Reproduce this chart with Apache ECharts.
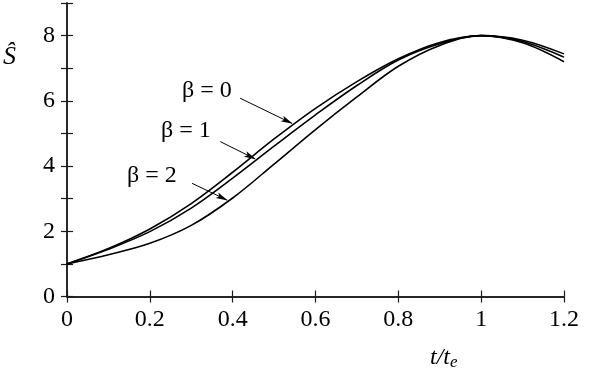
<!DOCTYPE html>
<html>
<head>
<meta charset="utf-8">
<script src="https://cdn.jsdelivr.net/npm/echarts@6/dist/echarts.min.js"></script>
<style>
  html, body { margin: 0; padding: 0; background: #fff; }
  #chart { width: 591px; height: 378px; }
</style>
</head>
<body>
<div id="chart"></div>
<script>
// t / t_e sample points
const tValues = [0, 0.1, 0.2, 0.3, 0.4, 0.5, 0.6, 0.7, 0.8, 0.9, 1.0, 1.1, 1.2];
// S-hat for each beta
const beta0 = [1.00, 1.47, 2.07, 2.85, 3.81, 4.83, 5.77, 6.59, 7.29, 7.79, 8.00, 7.86, 7.44];
const beta1 = [1.00, 1.45, 1.99, 2.71, 3.63, 4.61, 5.57, 6.47, 7.25, 7.75, 8.00, 7.82, 7.34];
const beta2 = [1.00, 1.28, 1.63, 2.18, 3.02, 4.06, 5.12, 6.12, 7.06, 7.70, 8.00, 7.78, 7.20];

const yTickLabels = [0, 2, 4, 6, 8];

// arrows: [start, tip] in data coords
const arrows = [
  [[0.418, 6.08], [0.543, 5.31]],
  [[0.370, 4.75], [0.454, 4.22]],
  [[0.302, 3.47], [0.386, 2.96]],
];
const betaLabels = ["β = 0", "β = 1", "β = 2"];

const FONT = "'Liberation Serif', serif";

function pairs(ys) {
  return tValues.map((t, i) => [t, ys[i]]);
}

const chart = echarts.init(document.getElementById("chart"));

const axisLine = { show: true, lineStyle: { color: "#1a1a1a", width: 1.5 } };
const axisTick = { show: true, inside: true, length: 6, lineStyle: { color: "#1a1a1a", width: 1.2 } };

function curve(name, ys, withArrows) {
  const s = {
    name: name,
    type: "line",
    data: pairs(ys),
    smooth: 0.35,
    symbol: "none",
    lineStyle: { color: "#000", width: 1.6 },
    animation: false,
  };
  if (withArrows) {
    s.markLine = {
      silent: true,
      animation: false,
      symbol: ["none", "path://M5,0 L10,22 L5,17 L0,22 Z"],
      symbolSize: [6, 12],
      symbolOffset: [0, [0, 5]],
      label: { show: false },
      lineStyle: { color: "#000", width: 1, type: "solid" },
      data: arrows.map(a => [{ coord: a[0] }, { coord: a[1] }]),
    };
  }
  return s;
}

chart.setOption({
  backgroundColor: "#fff",
  animation: false,
  grid: { left: 67, right: 27, top: 3, bottom: 81.5 },
  xAxis: [
    {
      type: "value", min: 0, max: 1.2, interval: 0.2,
      axisLine: axisLine, axisTick: axisTick,
      splitLine: { show: false },
      axisLabel: {
        margin: 11, color: "#000", fontSize: 24, fontFamily: FONT,
        formatter: v => String(+v.toFixed(1)),
      },
    },
    {
      type: "value", position: "top", min: 0, max: 1.2, interval: 0.2,
      axisLine: axisLine, axisTick: axisTick,
      splitLine: { show: false }, axisLabel: { show: false },
    },
  ],
  yAxis: [
    {
      type: "value", min: 0, max: 9, interval: 1,
      axisLine: axisLine, axisTick: axisTick,
      splitLine: { show: false },
      axisLabel: {
        margin: 12, color: "#000", fontSize: 24, fontFamily: FONT,
        formatter: v => (yTickLabels.indexOf(v) >= 0 ? String(v) : ""),
      },
    },
    {
      type: "value", position: "right", min: 0, max: 9, interval: 1,
      axisLine: axisLine, axisTick: axisTick,
      splitLine: { show: false }, axisLabel: { show: false },
    },
  ],
  series: [
    curve("β = 0", beta0, true),
    curve("β = 1", beta1, false),
    curve("β = 2", beta2, false),
  ],
  graphic: [
    {
      type: "text", left: 3, top: 44,
      style: { text: "Ŝ", fontFamily: FONT, fontStyle: "italic", fontSize: 26, fill: "#000" },
    },
    {
      type: "text", left: 430, top: 346,
      style: {
        text: "{a|t/t}{b|e}",
        rich: {
          a: { fontFamily: FONT, fontStyle: "italic", fontSize: 24, fill: "#000" },
          b: { fontFamily: FONT, fontStyle: "italic", fontSize: 17, fill: "#000", padding: [10, 0, 0, 0] },
        },
      },
    },
    { type: "text", left: 182, top: 79, style: { text: betaLabels[0], fontFamily: FONT, fontSize: 24, fill: "#000" } },
    { type: "text", left: 161, top: 119, style: { text: betaLabels[1], fontFamily: FONT, fontSize: 24, fill: "#000" } },
    { type: "text", left: 127, top: 164, style: { text: betaLabels[2], fontFamily: FONT, fontSize: 24, fill: "#000" } },
  ],
});
</script>
</body>
</html>
